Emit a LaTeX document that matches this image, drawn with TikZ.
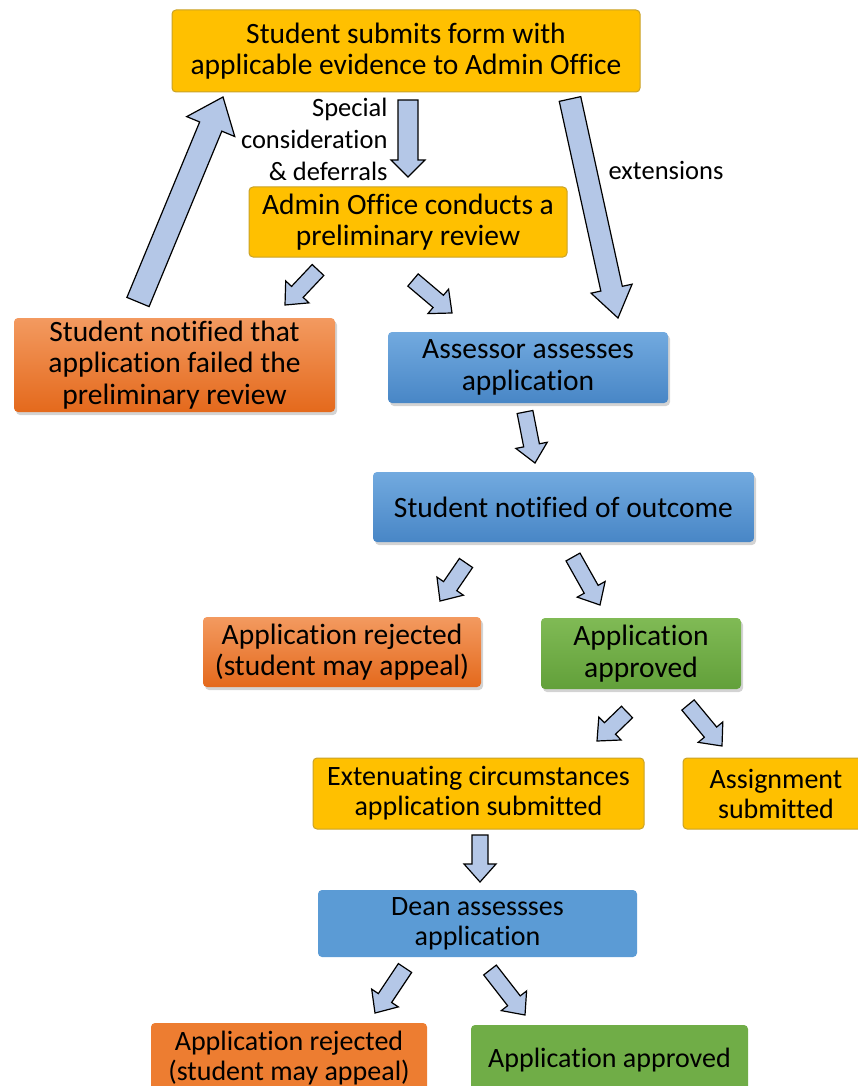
\documentclass[tikz,border=0pt]{standalone}
\usepackage{fontspec}
\setmainfont{Carlito}[Ligatures=NoCommon]
\usetikzlibrary{positioning, calc, shadows}
\definecolor{boxyellow}{HTML}{FFC000}
\definecolor{yellowedge}{HTML}{C9A227}
\definecolor{orangetop}{HTML}{F39A60}
\definecolor{orangebot}{HTML}{E4691C}
\definecolor{orangeflat}{HTML}{ED7D31}
\definecolor{bluetop}{HTML}{72AADF}
\definecolor{bluebot}{HTML}{4886C6}
\definecolor{blueflat}{HTML}{5B9BD5}
\definecolor{greentop}{HTML}{80BA55}
\definecolor{greenbot}{HTML}{62A03A}
\definecolor{greenflat}{HTML}{70AD47}
\definecolor{arrowblue}{HTML}{B4C7E7}
\tikzset{
box/.style={rounded corners=4pt, align=center, inner sep=2pt,
  font=\fontsize{29.5}{31.5}\selectfont},
smalltext/.style={font=\fontsize{28}{30}\selectfont},
shade/.style={drop shadow={opacity=0.35, shadow xshift=2pt, shadow yshift=-3pt}},
ybox/.style={box, fill=boxyellow, draw=yellowedge, line width=1pt},
obox/.style={box, top color=orangetop, bottom color=orangebot, shade},
bbox/.style={box, top color=bluetop, bottom color=bluebot, shade},
gbox/.style={box, top color=greentop, bottom color=greenbot, shade},
oflat/.style={box, fill=orangeflat},
bflat/.style={box, fill=blueflat},
gflat/.style={box, fill=greenflat},
lbl/.style={font=\fontsize{26.5}{32}\selectfont},
barrow/.style={fill=arrowblue, draw=black, line width=1.2pt, line join=miter}
}
% block arrow: tail, tip, shaft half width, head half width, head length
\newcommand{\blockarrow}[5]{%
  \path[barrow] let \p1=(#1), \p2=(#2),
      \n1={atan2(\y2-\y1,\x2-\x1)},
      \n2={veclen(\x2-\x1,\y2-\y1)-#5}
    in ($(\p1)+(\n1+90:#3)$)
    -- ($(\p1)+(\n1:\n2)+(\n1+90:#3)$)
    -- ($(\p1)+(\n1:\n2)+(\n1+90:#4)$)
    -- (\p2)
    -- ($(\p1)+(\n1:\n2)+(\n1-90:#4)$)
    -- ($(\p1)+(\n1:\n2)+(\n1-90:#3)$)
    -- ($(\p1)+(\n1-90:#3)$) -- cycle;}

\begin{document}
\begin{tikzpicture}[x=1pt,y=1pt]
\useasboundingbox (0,0) rectangle (858,-1086);
\clip (0,0) rectangle (858,-1086);

\node[ybox, minimum width=468pt, minimum height=82pt] (A) at (406,-51)
  {Student submits form with\\applicable evidence to Admin Office};
\node[ybox, minimum width=318pt, minimum height=70pt] (B) at (408,-222)
  {Admin Office conducts a\\preliminary review};
\node[obox, minimum width=321pt, minimum height=94pt] (C) at (174.5,-365)
  {Student notified that\\application failed the\\preliminary review};
\node[bbox, minimum width=280pt, minimum height=71pt] (D) at (528,-367.5)
  {Assessor assesses\\application};
\node[bbox, minimum width=381pt, minimum height=70pt] (E) at (563.5,-507)
  {Student notified of outcome};
\node[obox, minimum width=278pt, minimum height=70pt] (F) at (342,-652)
  {Application rejected\\(student may appeal)};
\node[gbox, minimum width=200pt, minimum height=71pt] (G) at (641,-653.5)
  {Application\\approved};
\node[ybox, smalltext, minimum width=331pt, minimum height=71pt] (H) at (478.5,-793.5)
  {Extenuating circumstances\\application submitted};
\node[ybox, smalltext, minimum width=186pt, minimum height=71pt] (I) at (776,-793.5)
  {Assignment\\submitted};
\node[bflat, smalltext, minimum width=319pt, minimum height=67pt] (J) at (477.5,-923.5)
  {Dean assessses\\application};
\node[oflat, smalltext, minimum width=276pt, minimum height=70pt] (K) at (289,-1058)
  {Application rejected\\(student may appeal)};
\node[gflat, smalltext, minimum width=277pt, minimum height=70pt] (L) at (609.5,-1060)
  {Application approved};

\node[lbl, align=right, anchor=east] (S) at (391,-139)
  {Special\\consideration\\\& deferrals};
\node[lbl] (X) at (666,-170) {extensions};

% arrow ends
\coordinate (C1) at (138,-302);  \coordinate (A1) at (223,-97);
\coordinate (A2) at (408,-100);  \coordinate (B2) at (408,-177);
\coordinate (A3) at (570,-99);   \coordinate (D3) at (618,-318);
\coordinate (B4) at (318,-270);  \coordinate (C4) at (285,-305);
\coordinate (B5) at (413,-280);  \coordinate (D5) at (452,-313);
\coordinate (D6) at (525,-412);  \coordinate (E6) at (535,-463);
\coordinate (E7) at (466,-563);  \coordinate (F7) at (440,-601);
\coordinate (E8) at (573,-557);  \coordinate (G8) at (600,-605);
\coordinate (G9) at (627,-712);  \coordinate (H9) at (597,-741);
\coordinate (G10) at (688,-705); \coordinate (I10) at (722,-746);
\coordinate (H11) at (480,-835); \coordinate (J11) at (480,-882);
\coordinate (J12) at (405,-968); \coordinate (K12) at (375,-1013);
\coordinate (J13) at (490,-970); \coordinate (L13) at (525,-1015);

\blockarrow{C1}{A1}{12}{26}{32}
\blockarrow{A2}{B2}{10}{17}{17}
\blockarrow{A3}{D3}{11}{21}{30}
\blockarrow{B4}{C4}{8}{16}{18}
\blockarrow{B5}{D5}{8}{16}{18}
\blockarrow{D6}{E6}{8}{16}{18}
\blockarrow{E7}{F7}{8}{16}{18}
\blockarrow{E8}{G8}{8}{16}{18}
\blockarrow{G9}{H9}{8}{16}{18}
\blockarrow{G10}{I10}{8}{16}{18}
\blockarrow{H11}{J11}{8}{16}{18}
\blockarrow{J12}{K12}{8}{16}{18}
\blockarrow{J13}{L13}{8}{16}{18}
\end{tikzpicture}
\end{document}
